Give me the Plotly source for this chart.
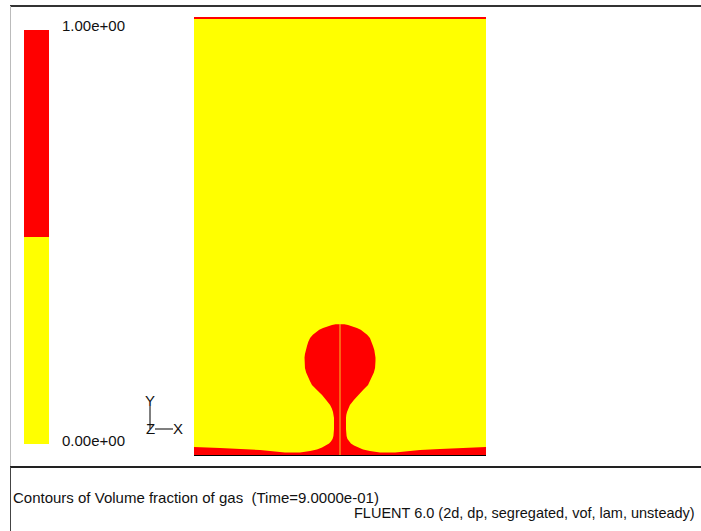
import plotly.graph_objects as go

W, H = 701, 531

# ---- data (physical units, mm) ----
domain_x = [-10.0, 10.0]
domain_y = [0.0, 30.0]

# gas/liquid interface, right half: from bubble apex down the neck and along the bottom film to the wall
iface_x = [0.0, 0.30, 0.55, 0.86, 1.16, 1.42, 1.64, 1.86, 2.05, 2.17, 2.26, 2.35, 2.40, 2.43,
           2.43, 2.40, 2.32, 2.19, 2.06, 1.92, 1.58, 1.23, 0.95, 0.68, 0.56, 0.48,
           0.43, 0.41, 0.41, 0.42, 0.45, 0.51, 0.62, 0.75, 0.96, 1.23, 1.58, 2.05, 2.74,
           3.77, 5.48, 6.85, 8.22, 10.0]
iface_y = [9.02, 9.00, 8.95, 8.87, 8.75, 8.62, 8.48, 8.29, 8.07, 7.80, 7.52, 7.24, 6.97, 6.73,
           6.49, 6.02, 5.71, 5.40, 5.12, 4.85, 4.51, 4.17, 3.83, 3.49, 3.25, 3.01,
           2.80, 2.60, 1.85, 1.64, 1.37, 1.16, 0.99, 0.85, 0.72, 0.58, 0.44, 0.34, 0.24,
           0.24, 0.41, 0.48, 0.55, 0.62]
top_gas_layer = 0.14  # thickness of gas layer at the top boundary

levels = [0.0, 1.0]
level_colors = ["#FFFF00", "#FF0000"]
level_labels = ["0.00e+00", "1.00e+00"]

title_text = "Contours of Volume fraction of gas  (Time=9.0000e-01)"
solver_text = "FLUENT 6.0 (2d, dp, segregated, vof, lam, unsteady)"

FONT = "Liberation Sans, Arial, sans-serif"

# ---- build gas region polygon (symmetric about x = 0) ----
left_x = [-v for v in reversed(iface_x)]
left_y = list(reversed(iface_y))
gas_x = [domain_x[0]] + left_x + iface_x[1:] + [domain_x[1], domain_x[0]]
gas_y = [domain_y[0]] + left_y + iface_y[1:] + [domain_y[0], domain_y[0]]

fig = go.Figure()

# liquid (whole domain)
fig.add_trace(go.Scatter(
    x=[domain_x[0], domain_x[1], domain_x[1], domain_x[0], domain_x[0]],
    y=[domain_y[0], domain_y[0], domain_y[1], domain_y[1], domain_y[0]],
    fill="toself", fillcolor=level_colors[0], mode="lines", line=dict(width=0),
    hoverinfo="skip", showlegend=False, xaxis="x", yaxis="y"))

# gas: bubble + bottom film
fig.add_trace(go.Scatter(
    x=gas_x, y=gas_y, fill="toself", fillcolor=level_colors[1], mode="lines",
    line=dict(width=0), hoverinfo="skip", showlegend=False,
    xaxis="x", yaxis="y"))

# gas: thin layer at top
ty0 = domain_y[1] - top_gas_layer
fig.add_trace(go.Scatter(
    x=[domain_x[0], domain_x[1], domain_x[1], domain_x[0], domain_x[0]],
    y=[ty0, ty0, domain_y[1], domain_y[1], ty0],
    fill="toself", fillcolor=level_colors[1], mode="lines", line=dict(width=0),
    hoverinfo="skip", showlegend=False, xaxis="x", yaxis="y"))

# symmetry-axis artefact line inside gas
fig.add_trace(go.Scatter(
    x=[0, 0], y=[domain_y[0], iface_y[0]], mode="lines",
    line=dict(color="#F5A623", width=1.2), hoverinfo="skip", showlegend=False,
    xaxis="x", yaxis="y"))

# bottom wall
fig.add_trace(go.Scatter(
    x=domain_x, y=[domain_y[0], domain_y[0]], mode="lines",
    line=dict(color="#000000", width=2), hoverinfo="skip", showlegend=False,
    xaxis="x", yaxis="y"))

# colour bar
fig.add_trace(go.Heatmap(
    z=[[levels[0]], [levels[1]]], x=[0], y=[0, 1],
    colorscale=[[0, level_colors[0]], [0.5, level_colors[0]], [0.5, level_colors[1]], [1, level_colors[1]]],
    zmin=levels[0], zmax=levels[1], showscale=False, hoverinfo="skip",
    xaxis="x2", yaxis="y2"))


def px(x):
    return x / W


def py(y):
    return (H - y) / H


ax_hidden = dict(visible=False, fixedrange=True, showgrid=False, zeroline=False)
fig.update_layout(
    width=W, height=H,
    margin=dict(l=0, r=0, t=0, b=0),
    paper_bgcolor="white", plot_bgcolor="white",
    xaxis=dict(domain=[px(194), px(486)], range=domain_x, **ax_hidden),
    yaxis=dict(domain=[py(456), py(17)], range=domain_y, **ax_hidden),
    xaxis2=dict(domain=[px(24), px(49)], range=[-0.5, 0.5], anchor="y2", **ax_hidden),
    yaxis2=dict(domain=[py(444), py(30)], range=[-0.5, 1.5], anchor="x2", **ax_hidden),
    showlegend=False,
)

ann = []
ann.append(dict(text=level_labels[1], x=px(60), y=py(25), xref="paper", yref="paper",
                xanchor="left", yanchor="middle", showarrow=False,
                font=dict(family=FONT, size=15, color="#111")))
ann.append(dict(text=level_labels[0], x=px(60), y=py(440), xref="paper", yref="paper",
                xanchor="left", yanchor="middle", showarrow=False,
                font=dict(family=FONT, size=15, color="#111")))
for t, x, y in [("Y", 150, 400), ("Z", 150, 428), ("X", 178, 428)]:
    ann.append(dict(text=t, x=px(x), y=py(y), xref="paper", yref="paper",
                    xanchor="center", yanchor="middle", showarrow=False,
                    font=dict(family=FONT, size=15, color="#111")))
ann.append(dict(text=title_text, x=px(11), y=py(497), xref="paper", yref="paper",
                xanchor="left", yanchor="middle", showarrow=False,
                font=dict(family=FONT, size=15, color="#111")))
ann.append(dict(text=solver_text, x=px(697), y=py(513), xref="paper", yref="paper",
                xanchor="right", yanchor="middle", showarrow=False,
                font=dict(family=FONT, size=14.5, color="#111")))
fig.update_layout(annotations=ann)

shapes = [
    dict(type="line", xref="paper", yref="paper", x0=px(10), x1=1, y0=py(6), y1=py(6),
         line=dict(color="#333333", width=2)),
    dict(type="line", xref="paper", yref="paper", x0=px(10.5), x1=px(10.5), y0=py(6), y1=py(467),
         line=dict(color="#BBBBBB", width=1)),
    dict(type="line", xref="paper", yref="paper", x0=px(10), x1=1, y0=py(467), y1=py(467),
         line=dict(color="#222222", width=2)),
    dict(type="line", xref="paper", yref="paper", x0=px(10.5), x1=px(10.5), y0=py(467), y1=0,
         line=dict(color="#444444", width=1)),
    dict(type="line", xref="paper", yref="paper", x0=px(150), x1=px(150), y0=py(406), y1=py(429),
         line=dict(color="#555555", width=1.5)),
    dict(type="line", xref="paper", yref="paper", x0=px(155), x1=px(173), y0=py(429), y1=py(429),
         line=dict(color="#555555", width=1.5)),
]
fig.update_layout(shapes=shapes)

fig.write_html("out.html")
